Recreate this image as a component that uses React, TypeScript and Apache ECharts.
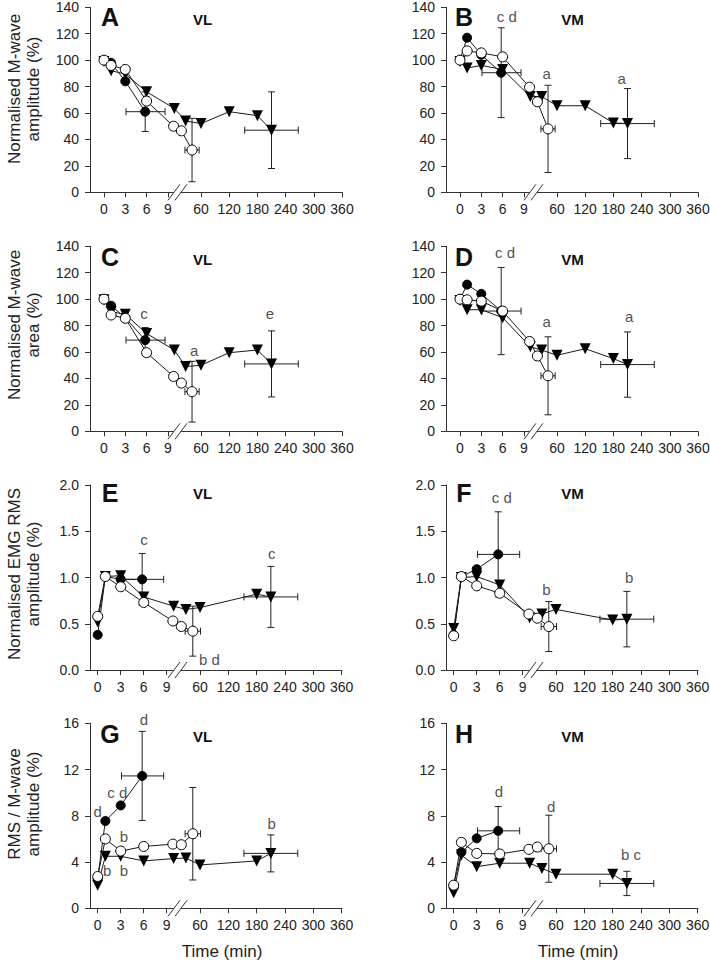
import React, { useEffect, useRef } from 'react';
import * as echarts from 'echarts';

// ---------- tick labels & time points ----------
const X_TICK_MINUTES = [0, 3, 6, 9, 60, 120, 180, 240, 300, 360];
const T_FILLED = [0, 1, 3, 5.8];
const T_OPEN = [0, 1, 3, 6, 9.8, 10.9, 12.4];
const T_TRI = [0, 1, 3, 6, 9.9, 11.5, 60, 120, 180, 210];
const XERR_FILLED = [3.1, 8.6];
const XERR_OPEN = [11.4, 13.4];
const XERR_TRI = [153, 267];

// ---------- panel values (filled, open, triangle) ; SD = [filled, open, tri] ----------
const A_FILLED = [100, 98, 84, 61];
const A_OPEN = [100, 96, 93, 69, 50, 46.5, 32];
const A_TRI = [99, 92, 89.5, 76, 63.5, 54, 52, 61, 58, 47];
const A_SD = [15, 24, 29];
const A_NOTES: [number, number, string][] = [];

const B_FILLED = [100, 117, 104, 90.5];
const B_OPEN = [100, 107, 105.5, 102.5, 79.5, 68.5, 48];
const B_TRI = [99, 94, 96, 93, 72.5, 72.5, 65.5, 65.5, 52.5, 52];
const B_SD = [34, 33, 26.5];
const B_NOTES: [number, number, string][] = [[6.6, 133, 'c d'], [12.2, 90, 'a'], [197.6, 86.4, 'a']];

const C_FILLED = [100, 95, 86, 69];
const C_OPEN = [100, 88, 85.5, 59.5, 41.5, 36.5, 30];
const C_TRI = [99.5, 90.5, 88.5, 74, 61.5, 49, 50, 59.5, 61.5, 51];
const C_SD = [9.5, 23, 25];
const C_NOTES: [number, number, string][] = [[5.63, 89.5, 'c'], [12.7, 61.3, 'a'], [206.8, 89, 'e']];

const D_FILLED = [100, 111, 104, 91];
const D_OPEN = [100, 99.5, 98.5, 91, 68, 57, 42];
const D_TRI = [99, 92, 92, 86, 64, 61.5, 57.5, 62.5, 55, 50.5];
const D_SD = [33, 29.5, 24.7];
const D_NOTES: [number, number, string][] = [[6.34, 135, 'c d'], [12.2, 83.2, 'a'], [213.8, 87, 'a']];

const E_FILLED = [0.38, 1.01, 0.98, 0.98];
const E_OPEN = [0.58, 1.01, 0.9, 0.73, 0.53, 0.47, 0.42];
const E_TRI = [0.52, 1.01, 1.02, 0.79, 0.69, 0.655, 0.675, null, 0.82, 0.79];
const E_SD = [0.28, 0.27, 0.33];
const E_NOTES: [number, number, string][] = [[6.04, 1.41, 'c'], [79.7, 0.115, 'b d'], [211.8, 1.26, 'c']];

const F_FILLED = [0.38, 1.01, 1.09, 1.25];
const F_OPEN = [0.37, 1.01, 0.91, 0.83, 0.605, 0.56, 0.47];
const F_TRI = [0.45, 1.0, 1.01, 0.92, 0.565, 0.605, 0.655, null, 0.54, 0.55];
const F_SD = [0.46, 0.27, 0.3];
const F_NOTES: [number, number, string][] = [[6.26, 1.87, 'c d'], [12.1, 0.87, 'b'], [215, 1.0, 'b']];

const G_FILLED = [2.6, 7.55, 8.9, 11.45];
const G_OPEN = [2.75, 6.0, 4.95, 5.35, 5.55, 5.5, 6.45];
const G_TRI = [2.0, 4.5, 4.5, 4.1, 4.3, 4.35, 3.75, null, 4.1, 4.75];
const G_SD = [3.85, 4.0, 1.6];
const G_NOTES: [number, number, string][] = [
  [0, 8.4, 'd'], [2.56, 10.0, 'c d'], [6.04, 16.3, 'd'], [3.43, 6.2, 'b'],
  [1.25, 3.3, 'b'], [3.43, 3.3, 'b'], [211.8, 7.3, 'b'],
];

const H_FILLED = [2.0, 4.85, 6.05, 6.7];
const H_OPEN = [2.0, 5.7, 4.75, 4.7, 5.1, 5.3, 5.15];
const H_TRI = [1.35, 4.6, 3.6, 3.9, 3.9, 3.45, 2.95, null, 2.95, 2.15];
const H_SD = [2.1, 2.9, 1.05];
const H_NOTES: [number, number, string][] = [[5.9, 10.1, 'd'], [12.7, 8.8, 'd'], [218.8, 4.67, 'b c']];

const ROW_TITLES = [
  'Normalised M-wave\namplitude (%)',
  'Normalised M-wave\narea (%)',
  'Normalised EMG RMS\namplitude (%)',
  'RMS / M-wave\namplitude (%)',
];
const ROW_Y = [
  { max: 140, interval: 20, dec: 0 },
  { max: 140, interval: 20, dec: 0 },
  { max: 2, interval: 0.5, dec: 1 },
  { max: 16, interval: 4, dec: 0 },
];

const PANELS = [
  { key: 'A', row: 0, col: 0, muscle: 'VL', filled: A_FILLED, open: A_OPEN, tri: A_TRI, sd: A_SD, notes: A_NOTES },
  { key: 'B', row: 0, col: 1, muscle: 'VM', filled: B_FILLED, open: B_OPEN, tri: B_TRI, sd: B_SD, notes: B_NOTES },
  { key: 'C', row: 1, col: 0, muscle: 'VL', filled: C_FILLED, open: C_OPEN, tri: C_TRI, sd: C_SD, notes: C_NOTES },
  { key: 'D', row: 1, col: 1, muscle: 'VM', filled: D_FILLED, open: D_OPEN, tri: D_TRI, sd: D_SD, notes: D_NOTES },
  { key: 'E', row: 2, col: 0, muscle: 'VL', filled: E_FILLED, open: E_OPEN, tri: E_TRI, sd: E_SD, notes: E_NOTES },
  { key: 'F', row: 2, col: 1, muscle: 'VM', filled: F_FILLED, open: F_OPEN, tri: F_TRI, sd: F_SD, notes: F_NOTES },
  { key: 'G', row: 3, col: 0, muscle: 'VL', filled: G_FILLED, open: G_OPEN, tri: G_TRI, sd: G_SD, notes: G_NOTES },
  { key: 'H', row: 3, col: 1, muscle: 'VM', filled: H_FILLED, open: H_OPEN, tri: H_TRI, sd: H_SD, notes: H_NOTES },
];

// ---------- layout ----------
const FONT = "'Liberation Sans', Arial, Helvetica, sans-serif";
const GRID_LEFT = [90, 446];
const GRID_TOP = [7.3, 246.3, 485, 723.3];
const GRID_W = 252;
const GRID_H = 185;
// broken time axis: linear segment for early minutes, compressed for long times
const XMAP = [
  { a: 14, b: 7.1, c: 111, d: 0.47 },
  { a: 14, b: 7.1, c: 111, d: 0.47 },
  { a: 7.7, b: 7.67, c: 110, d: 0.4723 },
  { a: 7.7, b: 7.67, c: 110, d: 0.4723 },
];
const LETTER_Y = [16.7, 256.5, 493, 734];
const MUSCLE_Y = [19, 259, 493, 736];
const TITLE_Y = [89, 325, 574, 804];

function toU(row: number, t: number) {
  const m = XMAP[row];
  return t < 30 ? m.a + m.b * t : m.c + m.d * (t - 60);
}

function buildOption() {
  const grid: any[] = [];
  const xAxis: any[] = [];
  const yAxis: any[] = [];
  const series: any[] = [];
  const graphic: any[] = [];
  const ink = '#1a1a1a';

  PANELS.forEach((p, i) => {
    const left = GRID_LEFT[p.col];
    const top = GRID_TOP[p.row];
    grid.push({ left, top, width: GRID_W, height: GRID_H, containLabel: false, outerBoundsMode: 'none' });
    const tickU = X_TICK_MINUTES.map((t) => toU(p.row, t));
    const row = p.row;
    xAxis.push({
      type: 'value', gridIndex: i, min: 0, max: GRID_W,
      axisLine: { show: true, onZero: false, lineStyle: { color: '#333', width: 1 } },
      axisTick: { show: true, length: 5, customValues: tickU, lineStyle: { color: '#333' } },
      axisLabel: {
        show: true, customValues: tickU, margin: 10, fontSize: 14, color: '#222', fontFamily: FONT,
        formatter: (v: number) => {
          let best = 0; let bd = 1e9;
          X_TICK_MINUTES.forEach((t) => { const d = Math.abs(toU(row, t) - v); if (d < bd) { bd = d; best = t; } });
          return String(best);
        },
      },
      splitLine: { show: false },
    });
    const ry = ROW_Y[p.row];
    yAxis.push({
      type: 'value', gridIndex: i, min: 0, max: ry.max, interval: ry.interval,
      axisLine: { show: true, onZero: false, lineStyle: { color: '#333', width: 1 } },
      axisTick: { show: true, length: 5, lineStyle: { color: '#333' } },
      axisLabel: { margin: 11, fontSize: 14, color: '#222', fontFamily: FONT, formatter: (v: number) => v.toFixed(ry.dec) },
      splitLine: { show: false },
    });

    const pts = (ts: number[], vs: (number | null)[]) =>
      ts.map((t, k) => [toU(p.row, t), vs[k]]).filter((d) => d[1] !== null && d[1] !== undefined);

    // error bars for final points
    const lastF = p.filled.length - 1;
    const lastO = p.open.length - 1;
    const lastT = p.tri.length - 1;
    const errData = [
      [toU(row, T_FILLED[lastF]), p.filled[lastF], toU(row, XERR_FILLED[0]), toU(row, XERR_FILLED[1]),
        (p.filled[lastF] as number) - p.sd[0], (p.filled[lastF] as number) + p.sd[0]],
      [toU(row, T_OPEN[lastO]), p.open[lastO], toU(row, XERR_OPEN[0]), toU(row, XERR_OPEN[1]),
        (p.open[lastO] as number) - p.sd[1], (p.open[lastO] as number) + p.sd[1]],
      [toU(row, T_TRI[lastT]), p.tri[lastT], toU(row, XERR_TRI[0]), toU(row, XERR_TRI[1]),
        (p.tri[lastT] as number) - p.sd[2], (p.tri[lastT] as number) + p.sd[2]],
    ];
    series.push({
      type: 'custom', xAxisIndex: i, yAxisIndex: i, coordinateSystem: 'cartesian2d', z: 1, clip: false, silent: true,
      data: errData,
      renderItem: (_params: any, api: any) => {
        const x = api.value(0), y = api.value(1);
        const c = api.coord([x, y]);
        const lo = api.coord([x, api.value(4)]);
        const hi = api.coord([x, api.value(5)]);
        const xl = api.coord([api.value(2), y]);
        const xh = api.coord([api.value(3), y]);
        const cap = 3.5;
        const st = { stroke: '#222', lineWidth: 1 };
        const ln = (x1: number, y1: number, x2: number, y2: number) => ({ type: 'line', shape: { x1, y1, x2, y2 }, style: st });
        return {
          type: 'group',
          children: [
            ln(c[0], lo[1], c[0], hi[1]),
            ln(c[0] - cap, lo[1], c[0] + cap, lo[1]),
            ln(c[0] - cap, hi[1], c[0] + cap, hi[1]),
            ln(xl[0], c[1], xh[0], c[1]),
            ln(xl[0], c[1] - cap, xl[0], c[1] + cap),
            ln(xh[0], c[1] - cap, xh[0], c[1] + cap),
          ],
        };
      },
    });

    series.push({
      type: 'line', xAxisIndex: i, yAxisIndex: i, z: 3, data: pts(T_FILLED, p.filled),
      symbol: 'circle', symbolSize: 9, showSymbol: true,
      itemStyle: { color: '#000', borderColor: '#000', borderWidth: 1 },
      lineStyle: { color: ink, width: 1 }, silent: true,
    });
    series.push({
      type: 'line', xAxisIndex: i, yAxisIndex: i, z: 4, data: pts(T_TRI, p.tri),
      symbol: 'triangle', symbolRotate: 180, symbolSize: 11, showSymbol: true,
      itemStyle: { color: '#000' },
      lineStyle: { color: ink, width: 1 }, silent: true,
    });
    series.push({
      type: 'line', xAxisIndex: i, yAxisIndex: i, z: 5, data: pts(T_OPEN, p.open),
      symbol: 'circle', symbolSize: 10, showSymbol: true,
      itemStyle: { color: '#fff', borderColor: '#000', borderWidth: 1 },
      lineStyle: { color: ink, width: 1 }, silent: true,
    });
    series.push({
      type: 'scatter', xAxisIndex: i, yAxisIndex: i, z: 6, clip: false, silent: true,
      symbolSize: 1, itemStyle: { color: 'rgba(0,0,0,0)' },
      data: p.notes.map((n) => ({ value: [toU(p.row, n[0]), n[1]], name: n[2] })),
      label: { show: true, position: 'inside', formatter: '{b}', fontSize: 15, color: '#222', fontFamily: FONT },
    });

    // axis break marks
    const B = top + GRID_H;
    graphic.push({
      type: 'polygon', z: 50,
      shape: { points: [[left + 78, B + 8], [left + 85, B + 8], [left + 97, B - 8], [left + 90, B - 8]] },
      style: { fill: '#fff', stroke: null },
    });
    graphic.push({ type: 'line', z: 51, shape: { x1: left + 78, y1: B + 8, x2: left + 90, y2: B - 8 }, style: { stroke: '#333', lineWidth: 1 } });
    graphic.push({ type: 'line', z: 51, shape: { x1: left + 85, y1: B + 8, x2: left + 97, y2: B - 8 }, style: { stroke: '#333', lineWidth: 1 } });

    // panel letter and muscle
    graphic.push({
      type: 'text', z: 60, x: p.col === 0 ? 110 : 464, y: LETTER_Y[p.row],
      style: { text: p.key, font: `bold 25px ${FONT}`, fill: '#111', textAlign: 'center', textVerticalAlign: 'middle' },
    });
    graphic.push({
      type: 'text', z: 60, x: p.col === 0 ? 202.5 : 572.5, y: MUSCLE_Y[p.row],
      style: { text: p.muscle, font: `bold 15px ${FONT}`, fill: '#111', textAlign: 'center', textVerticalAlign: 'middle' },
    });
  });

  ROW_TITLES.forEach((t, r) => {
    graphic.push({
      type: 'text', z: 60, x: 24, y: TITLE_Y[r], rotation: Math.PI / 2,
      style: { text: t, font: `17px ${FONT}`, fill: '#222', textAlign: 'center', textVerticalAlign: 'middle', lineHeight: 19 },
    });
  });
  [222, 578].forEach((x) => {
    graphic.push({
      type: 'text', z: 60, x, y: 951,
      style: { text: 'Time (min)', font: `17px ${FONT}`, fill: '#222', textAlign: 'center', textVerticalAlign: 'middle' },
    });
  });

  return {
    animation: false,
    backgroundColor: '#fff',
    textStyle: { fontFamily: FONT },
    grid, xAxis, yAxis, series, graphic,
  };
}

export default function App() {
  const ref = useRef<HTMLDivElement>(null);
  useEffect(() => {
    if (!ref.current) return;
    const chart = echarts.init(ref.current, undefined, { renderer: 'svg' });
    chart.setOption(buildOption() as any);
    return () => chart.dispose();
  }, []);
  return <div ref={ref} style={{ position: 'absolute', left: 0, top: 0, width: 710, height: 962 }} />;
}
